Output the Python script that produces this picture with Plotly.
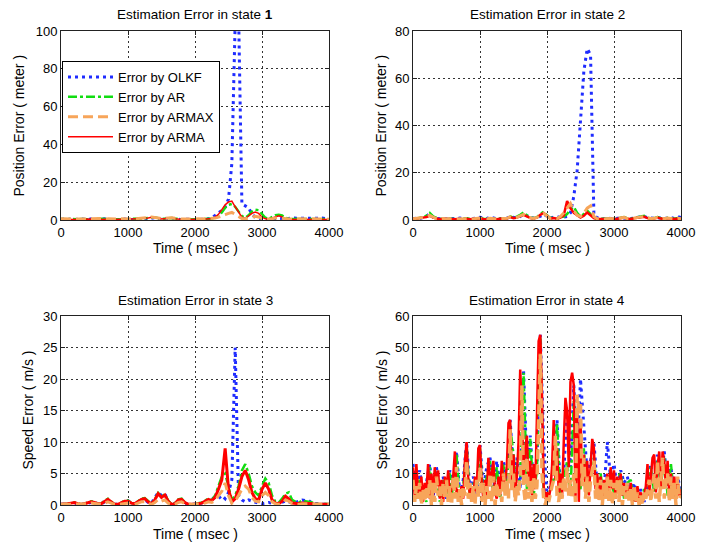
import plotly.graph_objects as go

# ---------------- data ----------------
T50 = list(range(0, 4001, 50))   # sample times (msec) for states 1-3 and OLKF/AR in state 4
T25 = list(range(0, 4001, 25))   # sample times (msec) for ARMA/ARMAX in state 4

# State 1 : position error (meter)
S1_OLKF = [0.3,0.5,0.2,0.6,0.3,0.2,0.5,0.4,0.2,0.6,
           0.3,0.2,0.5,0.7,0.3,0.2,0.4,0.3,0.2,0.5,
           0.3,0.2,0.4,0.3,0.5,0.4,0.6,1.0,1.2,0.8,
           0.4,0.6,0.9,1.0,0.6,0.3,0.2,0.4,0.3,0.2,
           0.3,0.2,0.4,0.3,0.6,1.2,2.5,4.0,5.0,7.0,
           11,30,105,110,8.5,7.5,6.5,3.0,1.5,1.0,
           0.6,0.4,0.3,0.5,0.8,1.0,0.8,0.6,1.0,1.1,
           1.0,0.9,1.0,0.8,0.9,1.0,0.8,0.9,1.0,0.7,
           0.5]
S1_AR = [0.5,0.3,0.4,0.6,0.4,0.3,0.5,0.6,0.4,0.3,
         0.5,0.4,0.6,0.5,0.4,0.3,0.5,0.4,0.3,0.4,
         0.5,0.4,0.3,0.5,0.6,0.8,1.0,1.3,1.4,1.0,
         0.6,0.7,1.0,1.1,0.8,0.5,0.4,0.3,0.4,0.3,
         0.4,0.3,0.4,0.5,0.6,0.8,1.2,2.0,4.0,6.5,
         8.0,8.5,7.0,4.5,2.0,1.2,2.5,4.5,5.5,5.2,
         3.0,1.2,0.6,1.5,2.5,2.8,2.4,1.2,0.6,0.5,
         0.6,0.5,0.6,0.5,0.4,0.6,0.5,0.4,0.5,0.4,
         0.3]
S1_ARMAX = [0.6,0.5,0.7,0.5,0.6,0.5,0.7,0.6,0.5,0.6,
            0.7,0.5,0.6,0.8,0.6,0.5,0.6,0.5,0.6,0.5,
            0.6,0.5,0.6,0.7,0.8,1.0,1.3,1.6,1.5,1.1,
            0.7,0.8,1.1,1.2,0.9,0.6,0.5,0.5,0.6,0.5,
            0.5,0.6,0.5,0.6,0.7,0.8,1.0,1.5,2.0,2.8,
            3.5,4.0,3.0,1.8,0.8,0.6,1.0,1.6,2.0,1.6,
            0.8,0.5,0.5,0.7,1.0,1.2,0.9,0.6,0.5,0.5,
            0.6,0.5,0.6,0.5,0.6,0.5,0.6,0.5,0.6,0.5,
            0.4]
S1_ARMA = [0.4,0.3,0.5,0.4,0.3,0.4,0.5,0.4,0.3,0.4,
           0.5,0.3,0.4,0.6,0.4,0.3,0.4,0.3,0.4,0.3,
           0.4,0.3,0.4,0.5,0.6,0.8,1.1,1.4,1.3,0.9,
           0.5,0.6,0.9,1.0,0.7,0.4,0.3,0.3,0.4,0.3,
           0.3,0.4,0.3,0.4,0.5,0.8,1.5,3.0,5.5,8.0,
           9.5,10.0,7.0,4.0,1.5,0.8,2.0,3.5,4.2,3.5,
           1.5,0.6,0.4,1.0,2.0,2.2,1.6,0.6,0.4,0.3,
           0.4,0.3,0.4,0.3,0.4,0.3,0.4,0.3,0.4,0.3,
           0.2]

# State 2 : position error (meter)
S2_OLKF = [0.5,0.8,0.6,1.0,1.5,2.8,1.2,0.6,0.5,0.7,
           0.5,0.4,0.6,0.5,0.8,0.6,0.5,0.4,0.6,0.8,
           1.2,0.8,0.6,1.2,0.8,0.5,0.6,0.5,0.7,1.5,
           1.0,0.8,1.5,2.5,1.8,1.0,0.8,1.0,1.5,2.5,
           1.5,0.8,1.2,1.5,1.0,1.2,1.5,3.0,10,21,
           44,63,72.5,70,2.0,1.0,0.6,0.5,0.8,0.6,
           0.5,0.7,0.8,1.0,0.8,0.6,0.8,1.0,1.2,1.5,
           1.0,0.8,0.7,1.0,0.8,0.6,0.8,1.0,0.7,1.5,
           1.0]
S2_AR = [0.3,0.6,0.8,1.2,1.8,3.0,1.5,0.8,0.4,0.6,
         0.3,0.5,0.4,0.6,0.3,0.5,0.7,0.4,0.3,0.6,
         0.9,0.5,0.4,0.8,0.5,0.3,0.6,0.4,0.8,1.5,
         1.0,1.4,2.2,3.2,2.0,1.0,0.8,1.2,2.5,3.5,
         2.0,0.8,1.0,0.6,1.2,1.5,2.5,4.5,5.5,3.0,
         1.5,2.5,4.0,2.5,1.0,0.5,0.4,0.6,0.5,0.7,
         0.4,0.6,0.8,1.2,0.7,0.5,0.9,1.2,1.5,1.8,
         1.0,0.6,0.8,1.2,0.7,0.5,0.9,0.6,0.5,0.8,
         0.5]
S2_ARMAX = [0.5,0.6,0.8,1.1,1.5,2.0,1.2,0.6,0.4,0.6,
            0.4,0.5,0.4,0.6,0.5,0.4,0.6,0.4,0.5,0.6,
            0.8,0.5,0.4,0.7,0.5,0.4,0.6,0.5,0.7,1.3,
            0.9,1.1,1.7,2.4,1.6,0.9,0.7,1.1,2.0,2.8,
            1.6,0.7,0.9,0.6,1.5,3.0,5.0,7.0,4.0,2.0,
            1.5,3.0,5.0,6.0,1.5,0.5,0.4,0.6,0.5,0.6,
            0.4,0.6,0.7,1.1,0.6,0.5,0.8,1.0,1.3,1.5,
            0.9,0.6,0.7,1.1,0.7,0.5,0.8,0.6,0.5,0.7,
            0.5]
S2_ARMA = [0.4,0.5,0.7,1.0,1.3,1.8,1.0,0.5,0.3,0.5,
           0.3,0.4,0.3,0.5,0.4,0.3,0.5,0.3,0.4,0.5,
           0.7,0.4,0.3,0.6,0.4,0.3,0.5,0.4,0.6,1.2,
           0.8,1.0,1.6,2.2,1.5,0.8,0.6,1.0,2.2,3.0,
           1.8,0.6,0.8,0.5,1.0,2.0,8.0,5.0,3.0,2.0,
           1.0,1.8,3.2,2.0,0.8,0.4,0.3,0.5,0.4,0.5,
           0.3,0.5,0.6,1.0,0.5,0.4,0.7,0.9,1.2,1.4,
           0.8,0.5,0.6,1.0,0.6,0.4,0.7,0.5,0.4,0.6,
           0.4]

# State 3 : speed error (m/s)
S3_OLKF = [0.1,0.1,0.2,0.2,0.3,0.2,0.1,0.2,0.3,0.4,
           0.3,0.2,0.2,0.5,0.8,0.4,0.1,0.1,0.3,0.6,
           0.7,0.3,0.2,0.5,0.8,0.9,0.4,0.3,1.2,2.0,
           1.5,1.8,0.5,0.1,0.2,0.6,0.7,0.3,0.1,0.1,
           0.1,0.2,0.3,0.5,0.8,1.0,1.2,1.0,1.5,1.0,
           2.0,4.0,25.0,1.5,0.8,0.5,0.8,0.6,0.4,0.3,
           0.2,0.3,0.4,0.3,0.2,0.3,0.5,0.6,0.5,0.3,
           0.4,0.6,0.8,0.7,0.7,0.3,0.2,0.1,0.1,0.1,
           0.1]
S3_AR = [0.1,0.1,0.2,0.3,0.4,0.3,0.1,0.2,0.4,0.6,
         0.5,0.2,0.2,0.7,1.0,0.6,0.1,0.1,0.4,0.7,
         0.7,0.3,0.2,0.6,1.0,1.1,0.6,0.2,0.9,1.9,
         1.3,1.7,0.7,0.1,0.3,0.9,1.0,0.4,0.1,0.1,
         0.1,0.3,0.4,0.7,1.0,0.8,1.5,3.0,4.5,5.0,
         3.0,0.8,1.5,3.0,5.5,6.5,5.0,3.0,2.0,1.5,
         3.0,4.2,3.5,1.5,0.5,0.4,1.0,1.8,2.0,0.8,
         0.5,0.4,0.7,0.6,0.6,0.4,0.2,0.1,0.1,0.2,
         0.1]
S3_ARMAX = [0.1,0.1,0.1,0.2,0.2,0.1,0.1,0.1,0.2,0.3,
            0.2,0.1,0.1,0.3,0.5,0.3,0.1,0.1,0.2,0.3,
            0.3,0.2,0.1,0.3,0.5,0.5,0.3,0.1,0.4,0.9,
            0.6,0.8,0.3,0.1,0.1,0.4,0.5,0.2,0.1,0.1,
            0.1,0.1,0.2,0.3,0.5,0.4,0.7,1.5,2.2,3.5,
            1.5,0.3,0.6,1.5,2.5,3.0,2.5,1.2,0.6,0.5,
            1.5,2.0,1.5,0.5,0.2,0.1,0.3,0.8,0.6,0.2,
            0.1,0.1,0.2,0.2,0.1,0.1,0.1,0.1,0.1,0.1,
            0.1]
S3_ARMA = [0.1,0.1,0.2,0.3,0.4,0.2,0.1,0.2,0.4,0.5,
           0.4,0.2,0.2,0.6,0.9,0.5,0.1,0.1,0.3,0.6,
           0.6,0.3,0.2,0.5,0.9,1.0,0.5,0.2,0.8,1.8,
           1.2,1.6,0.6,0.1,0.2,0.8,0.9,0.4,0.1,0.1,
           0.1,0.2,0.3,0.6,0.9,0.7,1.2,2.5,4.0,9.0,
           2.5,0.5,1.0,2.5,4.5,5.5,4.0,2.0,1.0,0.8,
           2.5,3.5,2.5,0.8,0.3,0.2,0.6,1.4,1.0,0.3,
           0.2,0.2,0.3,0.3,0.2,0.2,0.1,0.1,0.1,0.1,
           0.1]

# State 4 : speed error (m/s)
S4_OLKF = [13,4,11,3,7,13,2,12,5,9,
           2,11,6,17,3,8,20,4,9,3,
           19,5,12,15,4,14,6,14,8,27,
           10,15,5,43,12,22,6,13,54,20,
           3,6,12,27,5,10,30,12,38,15,
           40,25,10,14,20,6,9,4,20,8,
           13,5,11,7,9,3,7,2,5,1,
           6,13,5,16,8,17,6,12,3,9,
           4]
S4_AR = [10,2,8,5,1,12,4,10,1,8,
         3,10,2,16,1,6,19,2,7,5,
         18,2,9,14,3,12,2,13,5,25,
         16,4,9,42,5,21,3,11,53,4,
         1,5,8,26,2,8,14,3,33,12,
         5,18,3,10,15,4,10,2,6,11,
         3,9,10,2,7,8,1,4,2,5,
         3,12,4,14,6,15,3,13,2,7,
         3]
S4_ARMAX = [8,1,6,2, 7,0,5,1, 6,2,8,0, 7,1,9,3, 6,0,7,2,
            8,1,6,0, 9,2,12,1, 5,0,6,3, 14,2,7,1, 6,0,8,2,
            12,1,7,0, 6,2,10,1, 9,0,7,2, 5,1,10,3, 8,2,24,4,
            10,1,6,3, 9,38,6,1, 15,2,8,1, 9,2,6,30, 48,10,2,0,
            3,1,4,6, 8,22,3,1, 7,2,9,4, 12,3,8,2, 10,1,35,30,
            32,6,15,2, 9,1,8,12, 14,2,7,1, 8,0,7,2, 9,1,8,0,
            7,2,8,1, 8,0,6,2, 7,1,5,0, 6,1,4,0, 3,0,4,2,
            5,8,1,7, 10,2,14,1, 9,15,2,8, 10,1,9,2, 7,0,9,2,
            3]
S4_ARMA = [12,3,13,5, 2,9,1,7, 4,13,2,10, 3,12,6,11, 2,8,1,9,
           4,11,2,6, 9,17,3,5, 1,6,2,14, 20,8,3,6, 2,9,4,18,
           19,7,2,8, 3,15,6,10, 14,4,2,9, 3,14,5,8, 12,26,27,6,
           16,4,9,20, 43,30,8,18, 22,6,14,3, 13,5,28,52, 54,35,6,2,
           4,2,5,12, 27,8,18,4, 10,3,20,34, 30,12,39,42, 38,2,30,1,
           27,8,16,4, 14,3,12,21, 18,5,10,3, 9,2,8,4, 10,3,12,5,
           11,2,9,4, 10,3,7,2, 6,2,7,1, 5,1,6,2, 4,1,3,6,
           13,3,9,15, 16,4,12,17, 5,17,14,6, 14,3,10,2, 9,2,8,3,
           5]

TITLES = ["Estimation Error in state <b>1</b>", "Estimation Error in state 2",
          "Estimation Error in state 3", "Estimation Error in state 4"]
YLABELS = ["Position Error ( meter )", "Position Error ( meter )",
           "Speed Error ( m/s )", "Speed Error ( m/s )"]
XLABEL = "Time ( msec )"
YRANGES = [(0, 100), (0, 80), (0, 30), (0, 60)]
YDTICK = [20, 20, 5, 10]
XTICKS = [0, 1000, 2000, 3000, 4000]

# ---------------- styles / layout geometry ----------------
FONT = "Liberation Sans, Arial, sans-serif"
STY = {
    "Error by OLKF": dict(color="#1f2cff", width=3, dash="3px,4px"),
    "Error by AR": dict(color="#11dd11", width=2.5, dash="dashdot"),
    "Error by ARMAX": dict(color="#f7a55a", width=3, dash="10px,5px"),
    "Error by ARMA": dict(color="#ff0000", width=1.5, dash="solid"),
}
RANK = {"Error by OLKF": 1, "Error by AR": 2, "Error by ARMAX": 3, "Error by ARMA": 4}

W, H = 713, 543
ML, MR, MT, MB = 61, 32, 31, 38
PW, PH = W - ML - MR, H - MT - MB


def px_x(px):
    return (px - ML) / PW


def px_y(py):
    return (H - MB - py) / PH


XD = [(px_x(61), px_x(329)), (px_x(413), px_x(681))]
YD = [(px_y(220), px_y(31)), (px_y(505), px_y(316))]

panels = [
    dict(data={"Error by OLKF": (T50, S1_OLKF), "Error by AR": (T50, S1_AR),
               "Error by ARMA": (T50, S1_ARMA), "Error by ARMAX": (T50, S1_ARMAX)},
         widths={"Error by ARMA": 1.5}),
    dict(data={"Error by OLKF": (T50, S2_OLKF), "Error by AR": (T50, S2_AR),
               "Error by ARMA": (T50, S2_ARMA), "Error by ARMAX": (T50, S2_ARMAX)},
         widths={"Error by ARMA": 2.5}),
    dict(data={"Error by OLKF": (T50, S3_OLKF), "Error by AR": (T50, S3_AR),
               "Error by ARMA": (T50, S3_ARMA), "Error by ARMAX": (T50, S3_ARMAX)},
         widths={"Error by ARMA": 3}),
    dict(data={"Error by OLKF": (T50, S4_OLKF), "Error by AR": (T50, S4_AR),
               "Error by ARMA": (T25, S4_ARMA), "Error by ARMAX": (T25, S4_ARMAX)},
         widths={"Error by ARMA": 2.5, "Error by ARMAX": 3.5, "Error by AR": 2.5}),
]

fig = go.Figure()
draw_order = ["Error by OLKF", "Error by AR", "Error by ARMA", "Error by ARMAX"]
for k, p in enumerate(panels):
    ax = "" if k == 0 else str(k + 1)
    for name in draw_order:
        xs, ys = p["data"][name]
        st = dict(STY[name])
        if name in p["widths"]:
            st["width"] = p["widths"][name]
        fig.add_trace(go.Scatter(
            x=xs, y=ys, mode="lines", name=name, line=st,
            xaxis="x" + ax, yaxis="y" + ax,
            showlegend=(k == 0), legendrank=RANK[name]))

axis_common = dict(showline=True, linecolor="#222", linewidth=1, mirror="ticks",
                   ticks="inside", ticklen=4, tickcolor="#222", automargin=False,
                   showgrid=True, gridcolor="#333", griddash="2px,3px", gridwidth=1,
                   zeroline=False, tickfont=dict(size=13, color="black", family=FONT))

layout = dict(width=W, height=H, autosize=False,
              margin=dict(l=ML, r=MR, t=MT, b=MB, pad=0, autoexpand=False),
              paper_bgcolor="white", plot_bgcolor="white",
              font=dict(family=FONT, color="black"),
              legend=dict(x=px_x(62), y=px_y(61), xanchor="left", yanchor="top",
                          bgcolor="white", bordercolor="black", borderwidth=1,
                          font=dict(size=13, family=FONT, color="black"),
                          traceorder="normal", itemwidth=45))
annotations = []
for k in range(4):
    col, row = k % 2, k // 2
    ax = "" if k == 0 else str(k + 1)
    layout["xaxis" + ax] = dict(axis_common, domain=list(XD[col]), anchor="y" + ax,
                                range=[0, 4000], tickvals=XTICKS)
    layout["yaxis" + ax] = dict(axis_common, domain=list(YD[row]), anchor="x" + ax,
                                range=list(YRANGES[k]), dtick=YDTICK[k], tick0=0)
    xc = (XD[col][0] + XD[col][1]) / 2
    yc = (YD[row][0] + YD[row][1]) / 2
    title_y = px_y(15 if row == 0 else 301)
    xlab_y = px_y(248 if row == 0 else 534)
    ylab_x = px_x([19, 381, 27, 381][k])
    annotations.append(dict(text=TITLES[k], x=xc, y=title_y, xref="paper", yref="paper",
                            showarrow=False, xanchor="center", yanchor="middle",
                            font=dict(size=13.5, family=FONT, color="black")))
    annotations.append(dict(text=XLABEL, x=xc, y=xlab_y, xref="paper", yref="paper",
                            showarrow=False, xanchor="center", yanchor="middle",
                            font=dict(size=14, family=FONT, color="black")))
    annotations.append(dict(text=YLABELS[k], x=ylab_x, y=yc, xref="paper", yref="paper",
                            showarrow=False, xanchor="center", yanchor="middle", textangle=-90,
                            font=dict(size=14, family=FONT, color="black")))
layout["annotations"] = annotations
fig.update_layout(**layout)
fig.write_html("out.html")
